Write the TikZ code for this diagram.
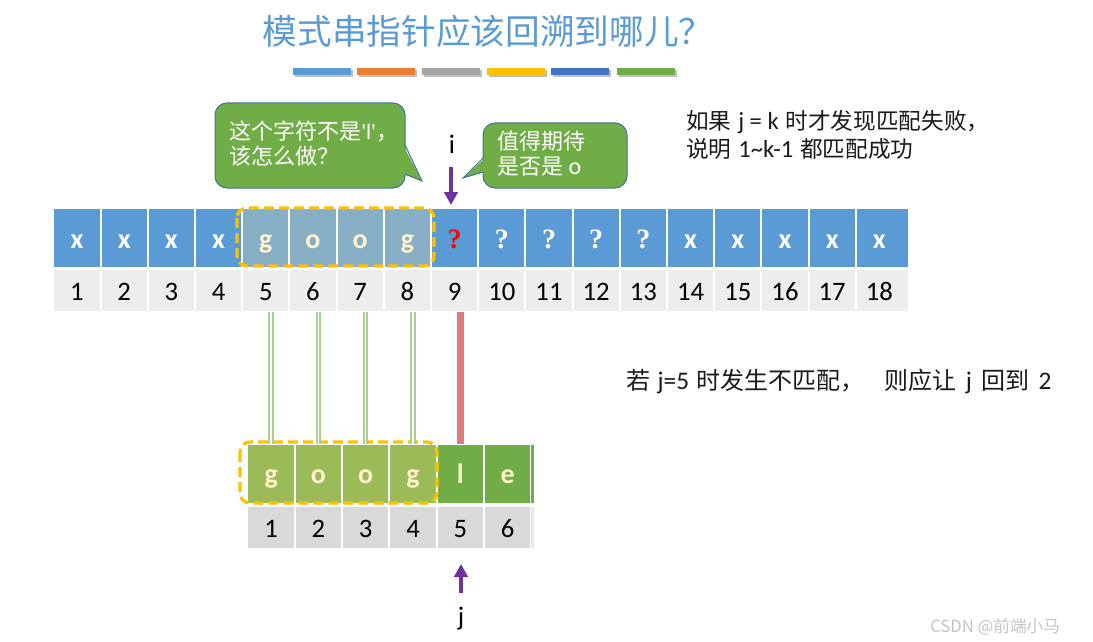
\documentclass[tikz,border=0pt]{standalone}
\usepackage{fontspec}
\setmainfont{Carlito}
\newfontfamily\cjk{Noto Sans CJK SC}
\newfontfamily\serifq{Liberation Serif}
\newfontfamily\latf{Carlito}
\usetikzlibrary{arrows.meta}
\definecolor{cblue}{HTML}{5B9BD5}
\definecolor{chigh}{HTML}{86AEC4}
\definecolor{ccream}{HTML}{FFF2CC}
\definecolor{cgray1}{HTML}{EDEDED}
\definecolor{cgray2}{HTML}{D9D9D9}
\definecolor{clgreen}{HTML}{9BBB59}
\definecolor{cgreen}{HTML}{70AD47}
\definecolor{cedge}{HTML}{41719C}
\definecolor{cpurple}{HTML}{7030A0}
\definecolor{cred}{HTML}{DF7A7A}
\definecolor{cgline}{HTML}{A9D18E}
\definecolor{corange}{HTML}{FFC000}
\definecolor{cbar2}{HTML}{ED7D31}
\definecolor{cbar3}{HTML}{A5A5A5}
\definecolor{cbar5}{HTML}{4472C4}
\definecolor{ctext}{HTML}{1A1A1A}
\definecolor{cwm}{HTML}{C4C4C4}
\newcommand\qm{{\serifq\bfseries ?}}
\newcommand\latA[1]{{\latf\fontsize{18.5}{20}\selectfont #1}}
\newcommand\latB[1]{{\latf\fontsize{19}{20}\selectfont #1}}
\tikzset{
  tcell/.style={rectangle,inner sep=0pt,minimum width=33.9pt,minimum height=43.5pt,draw=none},
  ncell/.style={rectangle,inner sep=0pt,minimum width=33.9pt,minimum height=30.75pt,draw=none,fill=cgray1},
  bcell/.style={rectangle,inner sep=0pt,minimum width=34pt,minimum height=43.5pt,draw=none},
  mcell/.style={rectangle,inner sep=0pt,minimum width=34pt,minimum height=30.75pt,draw=none,fill=cgray2},
  letter/.style={anchor=base,inner sep=0pt,font=\latf\fontsize{21}{21}\selectfont\bfseries},
  numtxt/.style={anchor=base,inner sep=0pt,font=\latf\fontsize{20}{20}\selectfont,text=black},
  dashbox/.style={draw=corange,line width=2.4pt,rounded corners=7.5pt,dash pattern=on 7.5pt off 3.75pt},
  gdouble/.style={draw=cgline,line width=1.5pt,double=white,double distance=1.1pt},
  parrow/.style={draw=cpurple,line width=3pt,-{Triangle[width=10pt,length=9.75pt]}},
  callout/.style={rectangle,rounded corners=9pt,fill=cgreen,draw=cedge,line width=0.75pt,inner sep=0pt},
  ctxt/.style={anchor=base west,inner sep=0pt,text=white,font=\cjk\fontsize{16.5}{20}\selectfont},
  rtxt/.style={anchor=base west,inner sep=0pt,text=ctext,font=\cjk\fontsize{17}{20}\selectfont},
  bar/.style={minimum width=43.5pt,minimum height=5.25pt,inner sep=0pt,draw=none}
}
\begin{document}
\begin{tikzpicture}[x=0.75pt,y=-0.75pt]
\useasboundingbox (0,0) rectangle (1093,642);

% title
\node[anchor=base,inner sep=0pt,text=cblue,font=\cjk\fontsize{26}{26}\selectfont] (title) at (488,45) {模式串指针应该回溯到哪儿？};

% colour bars
\foreach \k/\c/\bx in {1/cblue/322,2/cbar2/386,3/cbar3/451,4/corange/516,5/cbar5/580,6/cgreen/646}{
  \fill[black!25] (\bx-27.5,70) rectangle (\bx+30.5,77);
  \node[bar,fill=\c] (bar\k) at (\bx,71.5) {};
}

% top row (main string)
\foreach \i/\lt/\c/\tc in {1/x/cblue/white,2/x/cblue/white,3/x/cblue/white,4/x/cblue/white,
  5/g/chigh/ccream,6/o/chigh/ccream,7/o/chigh/ccream,8/g/chigh/ccream,
  9/\qm/cblue/red,10/\qm/cblue/white,11/\qm/cblue/white,12/\qm/cblue/white,13/\qm/cblue/white,
  14/x/cblue/white,15/x/cblue/white,16/x/cblue/white,17/x/cblue/white,18/x/cblue/white}{
  \pgfmathsetmacro\cx{29.8+47.2*\i}
  \node[tcell,fill=\c] (t\i) at (\cx,238) {};
  \node[letter,text=\tc] (tl\i) at (\cx,248) {\lt};
  \node[ncell] (n\i) at (\cx,290.5) {};
  \node[numtxt] (nl\i) at (\cx,300) {\i};
}
\fill[cblue] (901,209) rectangle (908,267);
\fill[cgray1] (901,270) rectangle (908,311);
\draw[dashbox] (237,208) rectangle (434,266);

% bottom row (pattern)
\foreach \i/\lt/\c in {1/g/clgreen,2/o/clgreen,3/o/clgreen,4/g/clgreen,5/l/cgreen,6/e/cgreen}{
  \pgfmathsetmacro\cx{223.85+47.3*\i}
  \node[bcell,fill=\c] (p\i) at (\cx,474) {};
  \node[letter,text=ccream] (pl\i) at (\cx,483) {\lt};
  \node[mcell] (q\i) at (\cx,527.5) {};
  \node[numtxt] (ql\i) at (\cx,537) {\i};
}
\fill[cgreen] (531,445) rectangle (534,503);
\fill[cgray2!60] (531,507) rectangle (534,548);
\draw[dashbox] (240,442) rectangle (437,503);

% connectors between rows
\foreach \k in {1,2,3,4}{
  \pgfmathtruncatemacro\j{\k+4}
  \draw[gdouble] ([yshift=-0.75pt]p\k.north |- n\j.south) -- ([yshift=0.75pt]p\k.north);
}
\draw[draw=cred,line width=5.25pt] ([yshift=-0.75pt]p5.north |- n9.south) -- ([yshift=0.75pt]p5.north);

% pointers
\node[anchor=base,inner sep=0pt,font=\latf\fontsize{20}{20}\selectfont] (ilab) at (452,153) {i};
\coordinate (ia) at (451,167);
\coordinate (ib) at (451,205);
\draw[parrow] (ia) -- (ib);
\node[anchor=base,inner sep=0pt,font=\latf\fontsize{20}{20}\selectfont] (jlab) at (461,625) {j};
\coordinate (ja) at (461,593);
\coordinate (jb) at (461,564);
\draw[parrow] (ja) -- (jb);

% callouts
\node[callout,minimum width=142.5pt,minimum height=63.75pt] (c1) at (310,145.5) {};
\fill[cgreen] (403,145) -- (422,181) -- (403,174) -- cycle;
\draw[cedge,line width=0.75pt,line join=miter] (405,145) -- (422,181) -- (405,174);
\node[ctxt] (c1a) at (229,139) {这个字符不是{\latf 'l'}，};
\node[ctxt] (c1b) at (229,165) {该怎么做？};

\node[callout,minimum width=108pt,minimum height=48.75pt] (c2) at (555,155.5) {};
\fill[cgreen] (485,158) -- (463,178) -- (485,172) -- cycle;
\draw[cedge,line width=0.75pt,line join=miter] (483,158) -- (463,178) -- (483,172);
\node[ctxt] (c2a) at (497,149) {值得期待};
\node[ctxt] (c2b) at (497,174) {是否是\hspace{4pt}{\latf\fontsize{18}{20}\selectfont o}};

% explanations
\node[rtxt] (r1) at (686,129) {如果\hspace{5pt}\latA{j = k}\hspace{5pt}时才发现匹配失败，};
\node[rtxt] (r2) at (686,157) {说明\hspace{5pt}\latA{1\textasciitilde k-1}\hspace{5pt}都匹配成功};
\node[rtxt,font=\cjk\fontsize{18}{20}\selectfont] (r3) at (626,389) {若\hspace{5.5pt}\latB{j=5}\hspace{5.5pt}时发生不匹配，\hspace{15pt}则应让\hspace{7pt}\latB{j}\hspace{7pt}回到\hspace{7pt}\latB{2}};

% watermark
\node[anchor=base west,inner sep=0pt,text=cwm,font=\cjk\fontsize{12.5}{14}\selectfont] (wm) at (930,632) {CSDN @前端小马};
\end{tikzpicture}
\end{document}
